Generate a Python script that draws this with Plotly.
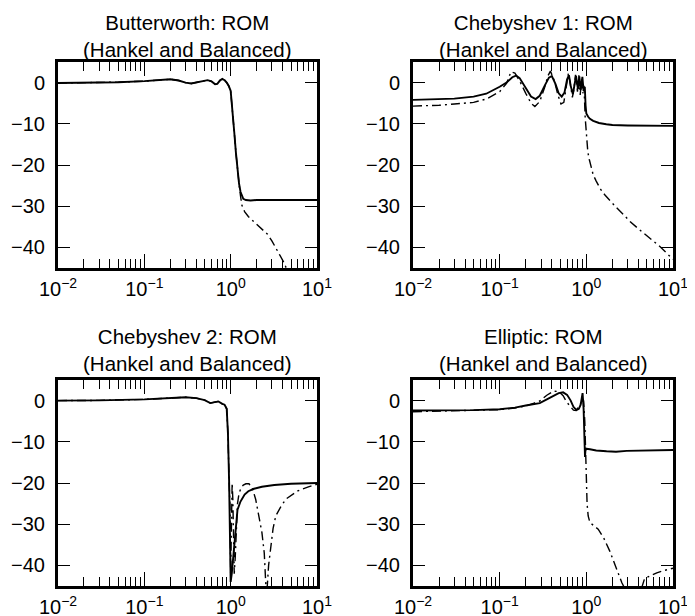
import plotly.graph_objects as go

# ---------------- data (frequency, magnitude in dB) ----------------
titles = ["Butterworth: ROM<br>(Hankel and Balanced)",
          "Chebyshev 1: ROM<br>(Hankel and Balanced)",
          "Chebyshev 2: ROM<br>(Hankel and Balanced)",
          "Elliptic: ROM<br>(Hankel and Balanced)"]

x_tick_vals = [0.01, 0.1, 1, 10]
x_tick_text = ["10<sup>\u22122</sup>", "10<sup>\u22121</sup>", "10<sup>0</sup>", "10<sup>1</sup>"]
y_tick_vals = [0, -10, -20, -30, -40]

# Butterworth
bw_f_solid = [0.01, 0.02, 0.05, 0.1, 0.15, 0.2, 0.25, 0.3, 0.35, 0.4, 0.47, 0.54, 0.6, 0.66, 0.7,
              0.75, 0.8, 0.85, 0.9, 0.95, 1.0, 1.05, 1.1, 1.15, 1.2, 1.25, 1.3, 1.35, 1.4, 1.5,
              1.7, 2.0, 3.0, 5.0, 10.0]
bw_solid = [-0.1, -0.05, 0.1, 0.35, 0.6, 0.8, 0.5, 0.0, -0.2, 0.0, 0.4, 0.6, 0.3, -0.4, -0.3,
            0.5, 0.9, 0.6, 0.0, -0.8, -2.0, -6.5, -12.0, -17.0, -21.5, -24.5, -26.5, -27.6, -28.2, -28.5,
            -28.6, -28.5, -28.5, -28.5, -28.5]
bw_f_dd = [0.01, 0.02, 0.05, 0.1, 0.15, 0.2, 0.25, 0.3, 0.35, 0.4, 0.47, 0.54, 0.6, 0.66, 0.7,
           0.75, 0.8, 0.85, 0.9, 0.95, 1.0, 1.05, 1.1, 1.15, 1.2, 1.25, 1.3, 1.35, 1.45, 1.6,
           1.86, 2.2, 2.67, 3.0, 3.47, 4.17, 4.6]
bw_dd = [-0.1, -0.05, 0.1, 0.35, 0.6, 0.8, 0.5, 0.0, -0.2, 0.0, 0.4, 0.6, 0.3, -0.4, -0.3,
         0.5, 0.9, 0.6, 0.0, -0.8, -2.0, -6.5, -12.0, -17.0, -21.5, -24.5, -27.5, -29.8, -31.3, -32.5,
         -33.8, -35.2, -36.8, -38.4, -40.7, -43.8, -46.0]

# Chebyshev 1
c1_f_solid = [0.01, 0.02, 0.03, 0.05, 0.07, 0.1, 0.12, 0.14, 0.155, 0.17, 0.2, 0.23, 0.26, 0.29,
              0.33, 0.37, 0.4, 0.44, 0.48, 0.52, 0.56, 0.6, 0.63, 0.66, 0.7, 0.73, 0.76, 0.8,
              0.83, 0.86, 0.9, 0.93, 0.96, 0.98, 1.0, 1.05, 1.1, 1.2, 1.4, 1.7, 2.0, 3.0, 5.0, 10.0]
c1_solid = [-4.2, -4.1, -3.9, -3.4, -2.7, -1.0, 0.0, 1.3, 1.7, 1.1, -1.5, -3.4, -4.0, -3.2,
            -0.8, 1.2, 1.6, -0.3, -2.6, -3.4, -2.4, 0.8, 1.8, -0.8, -2.8, -0.5, 1.6, -1.5,
            1.5, -1.8, 1.4, -2.0, -1.0, -5.5, -7.5, -8.3, -8.8, -9.3, -9.8, -10.1, -10.3, -10.4, -10.5, -10.5]
c1_f_dd = [0.01, 0.02, 0.03, 0.05, 0.07, 0.1, 0.12, 0.135, 0.15, 0.17, 0.2, 0.23, 0.255, 0.29,
           0.33, 0.36, 0.385, 0.43, 0.47, 0.51, 0.55, 0.59, 0.62, 0.65, 0.69, 0.72, 0.75, 0.79,
           0.82, 0.85, 0.88, 0.91, 0.94, 0.97, 1.0, 1.04, 1.08, 1.13, 1.2, 1.3, 1.45, 1.64, 1.9,
           2.24, 2.7, 3.19, 3.9, 4.75, 5.8, 7.06, 8.3, 10.0]
c1_dd = [-5.7, -5.5, -5.2, -4.8, -4.0, -2.2, -0.2, 2.6, 2.3, 0.4, -2.6, -5.0, -5.8, -4.6,
         -1.2, 1.6, 2.8, 0.3, -3.0, -5.2, -4.8, -1.0, 2.2, 0.0, -3.6, -1.5, 1.9, -2.2,
         1.8, -3.0, 1.0, -2.6, -0.8, -8.5, -13.5, -16.8, -18.6, -20.6, -22.4, -23.9, -25.8, -27.3, -28.8,
         -30.4, -32.1, -33.7, -35.3, -36.9, -38.3, -39.8, -41.2, -42.9]

# Chebyshev 2
c2_f_solid = [0.01, 0.03, 0.1, 0.2, 0.3, 0.4, 0.5, 0.58, 0.65, 0.72, 0.8, 0.85, 0.9, 0.93, 0.96,
              0.98, 1.0, 1.03, 1.05, 1.1, 1.15, 1.2, 1.3, 1.45, 1.6, 1.86, 2.3, 3.2, 5.0, 10.0]
c2_solid = [0.0, 0.05, 0.3, 0.6, 0.8, 0.6, 0.1, -0.6, -0.4, -0.2, -0.8, -1.0, -2.0, -8.0, -20.0,
            -32.0, -44.0, -42.0, -40.0, -35.0, -29.0, -26.5, -24.5, -22.8, -22.0, -21.4, -20.9, -20.5, -20.2, -20.0]
c2_f_dd = [0.01, 0.03, 0.1, 0.2, 0.3, 0.4, 0.5, 0.58, 0.65, 0.72, 0.8, 0.85, 0.9, 0.93, 0.96,
           0.98, 1.0, 1.02, 1.04, 1.06, 1.08, 1.1, 1.13, 1.16, 1.2, 1.25, 1.32, 1.4, 1.5, 1.63,
           1.8, 1.95, 2.1, 2.3, 2.45, 2.6, 2.75, 2.92, 3.1, 3.33, 3.8, 4.36, 5.2, 6.0, 7.8, 10.0]
c2_dd = [0.0, 0.05, 0.3, 0.6, 0.8, 0.6, 0.1, -0.6, -0.4, -0.2, -0.8, -1.0, -2.0, -8.0, -20.0,
         -25.0, -42.0, -28.0, -20.0, -24.0, -32.0, -42.0, -38.0, -30.0, -25.0, -22.5, -21.2, -20.5, -20.2, -20.2,
         -21.5, -24.0, -27.2, -32.0, -37.0, -48.0, -40.0, -35.3, -31.0, -28.0, -25.8, -23.9, -22.8, -21.9, -21.0, -20.3]

# Elliptic
el_f_solid = [0.01, 0.02, 0.05, 0.1, 0.15, 0.2, 0.25, 0.29, 0.35, 0.42, 0.48, 0.54, 0.6, 0.66,
              0.71, 0.77, 0.82, 0.86, 0.88, 0.905, 0.93, 0.965, 0.98, 1.0, 1.1, 1.3, 1.71, 2.2,
              2.92, 5.0, 10.0]
el_solid = [-2.4, -2.4, -2.3, -2.1, -1.7, -1.2, -0.9, -0.6, 0.3, 1.2, 1.8, 2.0, 1.4, 0.0,
            -1.5, -2.3, -2.0, -1.0, 0.5, 1.8, -2.0, -13.7, -11.6, -11.7, -11.8, -12.1, -12.3, -12.4,
            -12.2, -12.1, -12.0]
el_f_dd = [0.01, 0.02, 0.05, 0.1, 0.15, 0.2, 0.25, 0.29, 0.35, 0.42, 0.48, 0.54, 0.59, 0.65,
           0.71, 0.76, 0.8, 0.85, 0.9, 0.93, 0.96, 0.98, 1.0, 1.02, 1.05, 1.1, 1.37, 1.6, 1.87,
           2.33, 2.57, 3.0, 3.6, 4.2, 4.7, 5.5, 6.5, 8.0, 10.0]
el_dd = [-2.7, -2.6, -2.4, -2.2, -1.8, -1.3, -0.6, -0.1, 1.3, 2.3, 2.2, 1.2, -0.3, -1.5,
         -2.3, -2.4, -1.8, -1.0, 0.5, 0.0, -5.0, -13.5, -17.0, -25.0, -28.0, -29.6, -31.2, -33.5, -36.6,
         -41.7, -44.2, -47.0, -48.0, -46.5, -43.2, -42.5, -41.8, -41.2, -40.7]

panels = [
    (bw_f_solid, bw_solid, bw_f_dd, bw_dd),
    (c1_f_solid, c1_solid, c1_f_dd, c1_dd),
    (c2_f_solid, c2_solid, c2_f_dd, c2_dd),
    (el_f_solid, el_solid, el_f_dd, el_dd),
]

# ---------------- layout ----------------
W, H = 695, 616
OFF = 8  # page body margin offset
FONT = "Liberation Sans, Arial, Helvetica, sans-serif"
# panel pixel boxes in the window (left, right, top, bottom)
boxes = [(58, 317, 62, 268), (413, 673, 62, 268), (58, 317, 380, 586), (413, 673, 380, 586)]
title_centers = [36, 36, 350, 350]

minor_vals = [m * 10.0 ** e for e in (-2, -1, 0) for m in range(2, 10)]

fig = go.Figure()
layout = dict(width=W, height=H, margin=dict(l=0, r=0, t=0, b=0, autoexpand=False),
              template="none",
              paper_bgcolor="white", plot_bgcolor="white", showlegend=False,
              font=dict(family=FONT, size=20, color="black"))
annotations = []
for i, (fs, vs, fd, vd) in enumerate(panels):
    n = "" if i == 0 else str(i + 1)
    xa, ya = "x" + n, "y" + n
    fig.add_trace(go.Scatter(x=fs, y=vs, mode="lines", xaxis=xa, yaxis=ya,
                             line=dict(color="black", width=1.9)))
    fig.add_trace(go.Scatter(x=fd, y=vd, mode="lines", xaxis=xa, yaxis=ya,
                             line=dict(color="black", width=1.4, dash="9px,4px,2px,4px")))
    l, r, t, b = [v - OFF for v in boxes[i]]
    layout["xaxis" + n] = dict(
        type="log", range=[-2, 1], domain=[l / W, r / W], anchor=ya, automargin=False,
        tickmode="array", tickvals=x_tick_vals, ticktext=x_tick_text,
        ticks="inside", ticklen=14, tickwidth=1.2, tickcolor="black",
        minor=dict(ticks="inside", ticklen=9, tickwidth=1.2, tickcolor="black", tickmode="array",
                   tickvals=minor_vals, showgrid=False),
        showline=True, linewidth=3, linecolor="black", mirror="allticks",
        showgrid=False, zeroline=False, tickfont=dict(size=20), ticklabelstandoff=1,
    )
    layout["yaxis" + n] = dict(
        range=[-45, 5], domain=[1 - b / H, 1 - t / H], anchor=xa, automargin=False,
        tickmode="array", tickvals=y_tick_vals,
        ticks="inside", ticklen=12, tickwidth=1.2, tickcolor="black",
        showline=True, linewidth=3, linecolor="black", mirror="allticks",
        showgrid=False, zeroline=False, tickfont=dict(size=20), ticklabelstandoff=6,
    )
    annotations.append(dict(text=titles[i], xref="paper", yref="paper",
                            x=(l + r) / 2 / W, y=1 - (title_centers[i] - OFF) / H,
                            xanchor="center", yanchor="middle", showarrow=False,
                            font=dict(size=20.5, family=FONT, color="black")))
layout["annotations"] = annotations
fig.update_layout(**layout)
fig.write_html("out.html")
